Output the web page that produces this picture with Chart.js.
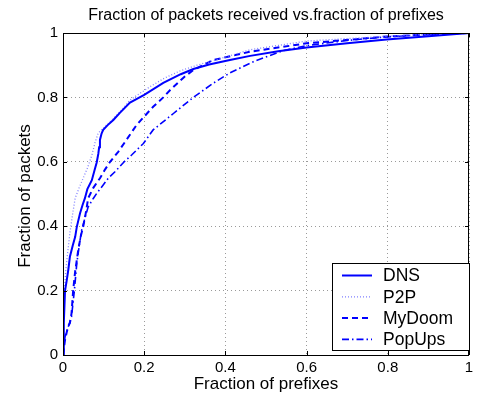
<!DOCTYPE html>
<html><head><meta charset="utf-8">
<script src="https://cdn.jsdelivr.net/npm/chart.js@4/dist/chart.umd.min.js"></script>
<style>html,body{margin:0;padding:0;background:#fff}#wrap{width:479px;height:398px}</style>
</head><body><div id="wrap"><canvas id="c" width="479" height="398"></canvas></div>
<script>
const titleText = "Fraction of packets received vs.fraction of prefixes";
const xTitle = "Fraction of prefixes";
const yTitle = "Fraction of packets";
const tickValues = [0, 0.2, 0.4, 0.6, 0.8, 1];
const seriesNames = ["DNS", "P2P", "MyDoom", "PopUps"];

const dnsX = [0,0.002,0.005,0.009,0.013,0.017,0.024,0.030,0.034,0.042,0.048,0.054,0.060,0.071,0.078,0.083,0.087,0.089,0.091,0.095,0.099,0.110,0.124,0.140,0.165,0.200,0.247,0.290,0.321,0.360,0.411,0.461,0.530,0.600,0.700,0.797,0.900,1];
const dnsY = [0,0.10,0.20,0.23,0.264,0.305,0.34,0.367,0.398,0.44,0.465,0.487,0.515,0.543,0.575,0.598,0.625,0.645,0.668,0.688,0.699,0.714,0.73,0.752,0.784,0.808,0.845,0.872,0.888,0.902,0.916,0.929,0.943,0.955,0.968,0.98,0.99,1];

const p2pX = [0,0.001,0.003,0.006,0.010,0.017,0.024,0.030,0.040,0.050,0.060,0.071,0.079,0.087,0.100,0.120,0.144,0.165,0.214,0.250,0.288,0.330,0.370,0.461,0.600,0.797,0.910,1];
const p2pY = [0,0.10,0.18,0.25,0.30,0.38,0.44,0.487,0.52,0.55,0.58,0.62,0.66,0.69,0.705,0.73,0.76,0.792,0.833,0.86,0.882,0.90,0.914,0.948,0.975,0.99,0.997,1];

const mydoomX = [0,0.005,0.009,0.013,0.017,0.021,0.025,0.030,0.038,0.044,0.050,0.056,0.062,0.075,0.091,0.103,0.116,0.136,0.153,0.173,0.181,0.222,0.247,0.264,0.300,0.321,0.370,0.461,0.600,0.797,0.910,1];
const mydoomY = [0,0.047,0.07,0.09,0.099,0.129,0.20,0.26,0.33,0.37,0.40,0.44,0.487,0.52,0.549,0.575,0.60,0.631,0.662,0.699,0.714,0.771,0.80,0.823,0.865,0.885,0.916,0.942,0.968,0.989,0.996,1];

const popupsX = [0,0.005,0.013,0.021,0.028,0.034,0.040,0.046,0.055,0.062,0.075,0.083,0.099,0.112,0.128,0.149,0.169,0.198,0.222,0.272,0.321,0.370,0.411,0.469,0.542,0.600,0.700,0.797,0.910,1];
const popupsY = [0,0.057,0.088,0.119,0.20,0.285,0.34,0.388,0.43,0.46,0.487,0.502,0.528,0.55,0.569,0.598,0.621,0.657,0.699,0.75,0.80,0.844,0.876,0.911,0.945,0.961,0.977,0.988,0.996,1];

const FONT = "'Liberation Sans', Arial, Helvetica, sans-serif";
const pts = (xs, ys) => xs.map((x, i) => ({x: x, y: ys[i]}));

const styles = [
  {borderColor:'#0000ff', borderWidth:2, borderDash:[]},
  {borderColor:'#8080ff', borderWidth:1.3, borderDash:[1,2]},
  {borderColor:'#0000ff', borderWidth:2, borderDash:[6,4]},
  {borderColor:'#0000ff', borderWidth:1.6, borderDash:[7,3,1.5,3]}
];
const allData = [pts(dnsX,dnsY), pts(p2pX,p2pY), pts(mydoomX,mydoomY), pts(popupsX,popupsY)];

const decor = {
  id: 'decor',
  afterDatasetsDraw(chart) {
    const ctx = chart.ctx, a = chart.chartArea;
    const xs = chart.scales.x, ys = chart.scales.y;
    ctx.save();
    ctx.strokeStyle = '#000'; ctx.lineWidth = 1; ctx.setLineDash([]);
    ctx.strokeRect(Math.round(a.left)+0.5, Math.round(a.top)+0.5, Math.round(a.right-a.left)-1, Math.round(a.bottom-a.top));
    ctx.beginPath();
    tickValues.forEach(v => {
      const px = Math.round(xs.getPixelForValue(v))+0.5;
      ctx.moveTo(px, a.bottom); ctx.lineTo(px, a.bottom-4);
      ctx.moveTo(px, a.top); ctx.lineTo(px, a.top+4);
      const py = Math.round(ys.getPixelForValue(v))+0.5;
      ctx.moveTo(a.left, py); ctx.lineTo(a.left+4, py);
      ctx.moveTo(a.right, py); ctx.lineTo(a.right-4, py);
    });
    ctx.stroke();
    // legend
    const lx = a.right - 137, ly = a.bottom - 92, lw = 137, lh = 87;
    ctx.fillStyle = '#fff';
    ctx.fillRect(lx, ly, lw, lh);
    ctx.strokeRect(lx+0.5, ly+0.5, lw, lh);
    ctx.font = '17.5px ' + FONT;
    ctx.textBaseline = 'middle'; ctx.textAlign = 'left';
    chart.data.datasets.forEach((ds, i) => {
      const y = ly + 12.5 + i*21.3;
      ctx.strokeStyle = ds.borderColor; ctx.lineWidth = ds.borderWidth;
      ctx.setLineDash(ds.borderDash);
      ctx.beginPath(); ctx.moveTo(lx+10, y); ctx.lineTo(lx+40, y); ctx.stroke();
      ctx.setLineDash([]);
      ctx.fillStyle = '#000';
      ctx.fillText(ds.label, lx+51, y+1);
    });
    // titles
    ctx.fillStyle = '#000';
    ctx.textAlign = 'center';
    ctx.font = '16px ' + FONT;
    ctx.fillText(titleText, (a.left+a.right)/2, 16);
    ctx.font = '17px ' + FONT;
    ctx.fillText(xTitle, (a.left+a.right)/2, 384);
    ctx.translate(25, 196); ctx.rotate(-Math.PI/2);
    ctx.fillText(yTitle, 0, 0);
    ctx.restore();
  }
};

new Chart(document.getElementById('c'), {
  type: 'scatter',
  data: {
    datasets: seriesNames.map((n, i) => Object.assign({
      label: n, data: allData[i], showLine: true, pointRadius: 0, fill: false, tension: 0
    }, styles[i]))
  },
  options: {
    responsive: false, animation: false, devicePixelRatio: 1,
    layout: {padding: {top: 33, right: 10, left: 0, bottom: 0}},
    plugins: {legend: {display: false}, tooltip: {enabled: false}, title: {display: false}},
    scales: {
      x: {
        type: 'linear', min: 0, max: 1,
        afterFit(s) { s.height = 43; },
        afterBuildTicks(s) { s.ticks = tickValues.map(v => ({value: v})); },
        ticks: {padding: 4, color: '#000', font: {family: FONT, size: 15}, callback: v => String(v), maxRotation: 0},
        grid: {drawTicks: false, color: '#9a9a9a', lineWidth: 1},
        border: {display: false, dash: [1,3]}
      },
      y: {
        type: 'linear', min: 0, max: 1,
        afterFit(s) { s.width = 63; },
        afterBuildTicks(s) { s.ticks = tickValues.map(v => ({value: v})); },
        ticks: {padding: 5, color: '#000', font: {family: FONT, size: 15}, callback: v => String(v)},
        grid: {drawTicks: false, color: '#9a9a9a', lineWidth: 1},
        border: {display: false, dash: [1,3]}
      }
    }
  },
  plugins: [decor]
});
</script></body></html>
